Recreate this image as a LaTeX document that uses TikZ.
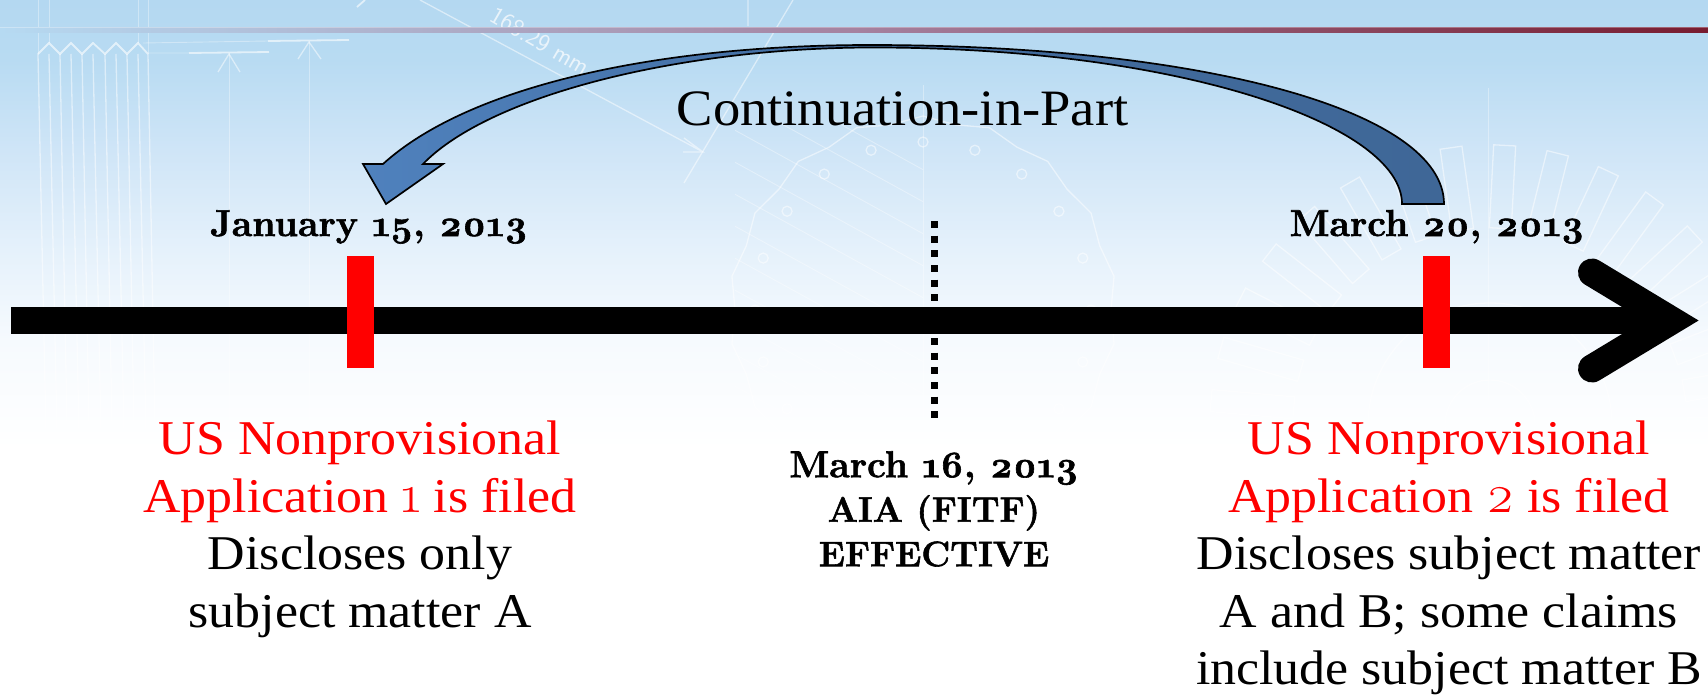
\documentclass[tikz,border=0pt]{standalone}
\usepackage{fontspec}
\setmainfont{Latin Modern Roman}[Numbers=OldStyle,BoldFeatures={FakeBold=1.6}]
\newfontfamily\bodyfont{Liberation Serif}[FakeStretch=1.07]
\newfontfamily\numfont{Latin Modern Roman}[Numbers=OldStyle]
\usetikzlibrary{calc}
\definecolor{stickblue}{RGB}{79,129,189}
\definecolor{stickdark}{RGB}{63,103,151}
\definecolor{barred}{RGB}{120,28,48}
\definecolor{barleft}{RGB}{182,218,242}
\definecolor{barmid}{RGB}{165,130,160}
\definecolor{skya}{RGB}{180,216,241}
\definecolor{skyb}{RGB}{184,219,242}
\definecolor{skyc}{RGB}{207,229,247}
\definecolor{skyd}{RGB}{229,241,251}
\definecolor{skye}{RGB}{246,250,254}
\pgfdeclareverticalshading{skybg}{100bp}{
  color(0bp)=(white);
  color(42.6bp)=(white);
  color(50.5bp)=(skye);
  color(57bp)=(skyd);
  color(64.2bp)=(skyc);
  color(70.7bp)=(skyb);
  color(75bp)=(skya);
  color(100bp)=(skya)}
\tikzset{
  wm/.style={draw=white,opacity=.5,line width=1.3pt,fill=none},
  wmthin/.style={draw=white,opacity=.35,line width=.9pt,fill=none},
  wmbold/.style={draw=white,opacity=.6,line width=1.8pt,fill=none},
  tick/.style={fill=red,draw=none,inner sep=0pt,minimum width=27pt,minimum height=112pt},
  axis/.style={draw=black,line width=27pt},
  chevron/.style={draw=black,line width=28pt,line cap=round,miter limit=10},
  dots/.style={draw=black,line width=7pt,dash pattern=on 7pt off 7.67pt},
  bigtext/.style={font=\bodyfont\fontsize{51}{57.5}\selectfont,align=center,anchor=base,inner sep=0pt},
  bodytext/.style={font=\bodyfont\fontsize{48.5}{57.5}\selectfont,align=center,anchor=north,inner sep=0pt},
  datetext/.style={font=\bfseries\fontsize{37.5}{44.5}\selectfont,align=center,anchor=base,inner sep=0pt},
  curved/.style={draw=black,line width=1.7pt,line join=miter,left color=stickblue,right color=stickdark,middle color=stickdark!80!stickblue}
}
\newcommand{\appnum}[1]{{\numfont\fontsize{54}{57.5}\selectfont #1}}
\newcommand{\capline}[1]{{\fontsize{35.5}{44.5}\selectfont #1}}
\begin{document}
\begin{tikzpicture}[x=1pt,y=-1pt]
\useasboundingbox (0,0) rectangle (1708,694);
\path[shading=skybg] (0,0) rectangle (1708,694);
% watermark : column
\foreach \a/\b in {38/47,49/58,60/68,71/80,82/90,93/102,105/113,116/125,127/135,138/147,148/156}{
  \draw[wm] (\a,54) -- (\b,480);
}
\draw[wmbold] (38,54)--(49,43)--(60,54)--(71,43)--(82,54)--(93,43)--(105,54)--(116,43)--(127,54)--(138,43)--(148,54);
\draw[wmthin] (38,0)--(38,54) (49,0)--(49,43) (138,0)--(138,43) (148,0)--(148,54);
% dimension lines
\draw[wmthin] (148,53)--(189,53) (143,43)--(268,41);
\draw[wmbold] (189,53)--(269,52) (268,41)--(349,40);
\draw[wmthin] (229,53)--(229,420) (309,41)--(309,420);
\draw[wm] (218,72)--(229,54)--(240,72) (298,59)--(309,42)--(321,59);
\draw[wm] (420,0)--(703,152) (683,152)--(703,152)--(684,138);
\draw[wm] (793,0)--(684,183) (748,0)--(748,26);
\draw[wmbold] (357,7)--(365,0);
\node[rotate=-30,text=white,opacity=.7,font=\sffamily\fontsize{25}{25}\selectfont,inner sep=0pt] (dimtext) at (540,41) {168.29 mm};
% watermark : gear
\begin{scope}
  \clip (735,120) rectangle (923,500);
  \foreach \k in {0,...,16}{
    \draw[wmthin] ($(560,-150)+(0,\k*32+120)$) -- ++(600,330);
  }
\end{scope}
\draw[wmthin] (923,85)--(923,520);
\foreach \k in {0,...,19}{
  \draw[wm] ($(923,310)+({\k*18+90}:168)$) circle (5);
}
\draw[wm] plot[samples at={0,...,35},variable=\t] ({923+(188+mod(\t,2)*6)*cos(\t*10)},{310+(188+mod(\t,2)*6)*sin(\t*10)}) -- cycle;
% watermark : rotor
\foreach \k in {-12,...,12}{
  \begin{scope}[shift={(1490,425)},rotate={\k*11-3}]
    \draw[wm] (-11,-280) rectangle (11,-197);
  \end{scope}
}
\draw[wm] (1490,425) circle (122);
\draw[wm] (1490,425) circle (45);
\draw[wmthin] (1488,88)--(1488,400);
% top bar
\path[left color=barleft,right color=barred,middle color=barmid] (0,27) rectangle (1708,32);
\path[fill=white,opacity=.3] (0,27) rectangle (1708,28.2);
% curved arrow
\path[curved] (386,204) -- (363,164) -- (383,164)
  .. controls (470,85) and (660,45) .. (870,45)
  .. controls (1200,45) and (1444,110) .. (1444,204)
  -- (1402,204)
  .. controls (1402,125) and (1180,47) .. (870,47.5)
  .. controls (680,48) and (490,95) .. (423,164)
  -- (443,164) -- cycle;
\node[bigtext] (cip) at (902.5,125) {Continuation-in-Part};
% dates
\node[datetext] (jan) at (369,236) {January 15, 2013};
\node[datetext] (mar) at (1437,236) {March 20, 2013};
% axis
\coordinate (start) at (11,320.5);
\coordinate (tip) at (1671.5,320.5);
\coordinate (upper) at (1592,272.5);
\coordinate (lower) at (1592,368.5);
\draw[axis] (start) -- (tip);
\draw[chevron] (upper) -- (tip) -- (lower);
% ticks
\node[tick] (t1) at (360,312) {};
\node[tick] (t2) at (1436.5,312) {};
% dotted
\coordinate (d1) at (934.5,221);
\coordinate (d2) at (934.5,306);
\coordinate (d3) at (934.5,338);
\coordinate (d4) at (934.5,423);
\draw[dots] (d1) -- (d2);
\draw[dots] (d3) -- (d4);
% texts
\node[datetext,anchor=north] (aia) at (934,451) {March 16, 2013\\\capline{AIA (FITF)}\\\capline{EFFECTIVE}};
\node[bodytext] (lefttext) at (360,421) {\textcolor{red}{US Nonprovisional}\\\textcolor{red}{Application \appnum{1} is filed}\\Discloses only\\subject matter A};
\node[bodytext] (righttext) at (1449,421) {\textcolor{red}{US Nonprovisional}\\\textcolor{red}{Application \appnum{2} is filed}\\Discloses subject matter\\A and B; some claims\\include subject matter B};
\end{tikzpicture}
\end{document}
